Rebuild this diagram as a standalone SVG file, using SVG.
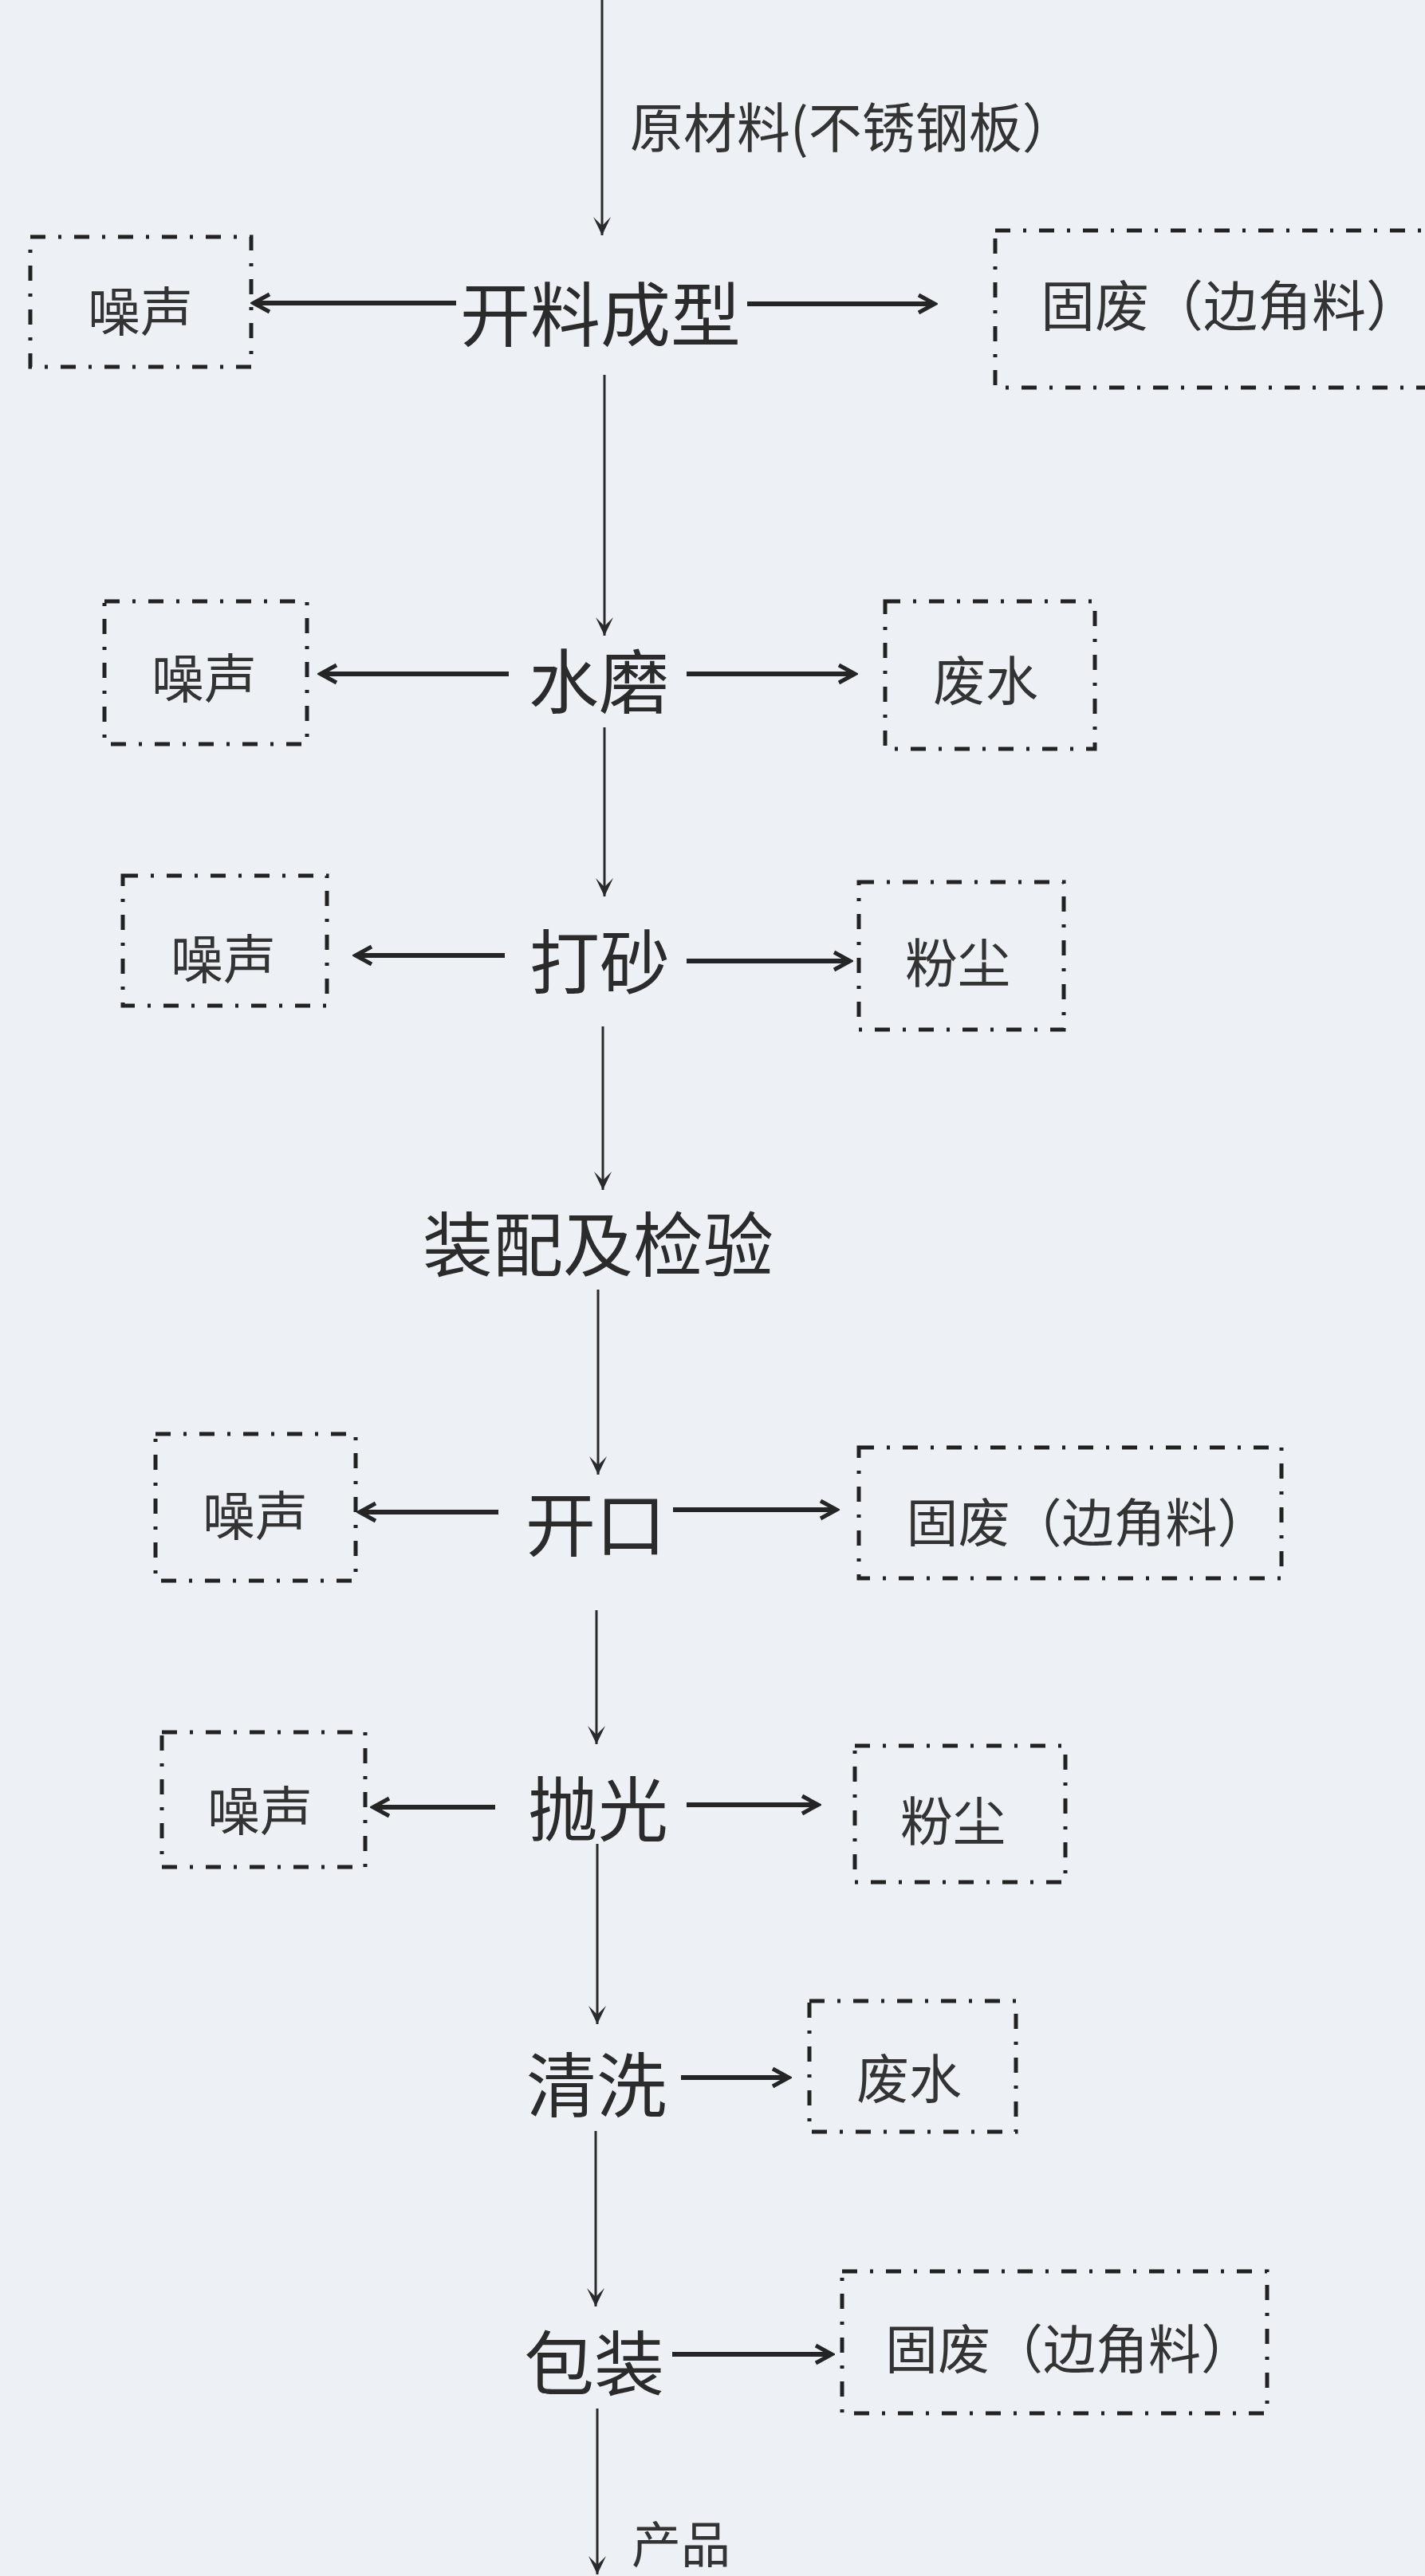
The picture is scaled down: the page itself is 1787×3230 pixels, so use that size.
<svg xmlns="http://www.w3.org/2000/svg" width="1787" height="3230" viewBox="0 0 1787 3230">
<style>
  .bg { fill: #edf0f4; }
  .main { font-family: "Noto Sans CJK SC", "Noto Sans", sans-serif; font-size: 88px; fill: #2b2b2b; text-anchor: middle; dominant-baseline: central; }
  .side { font-family: "Noto Sans CJK SC", "Noto Sans", sans-serif; font-size: 66px; fill: #333; text-anchor: middle; dominant-baseline: central; }
  .lbl { font-family: "Noto Sans CJK SC", "Noto Sans", sans-serif; font-size: 67px; fill: #333; dominant-baseline: central; }
  .box { fill: none; stroke: #222; stroke-width: 5; stroke-dasharray: 19 16 4 16; }
  .v { stroke: #2a2a2a; stroke-width: 3; fill: none; marker-end: url(#vArrow); }
  .h { stroke: #252525; stroke-width: 6; fill: none; marker-end: url(#hArrow); }
</style>
<defs>
  <marker id="vArrow" markerUnits="userSpaceOnUse" viewBox="-26 -14 28 28" refX="0" refY="0" markerWidth="28" markerHeight="28" orient="auto">
    <path d="M -23 -11 L 0 0 L -23 11 L -12 0 Z" fill="#2a2a2a"/>
  </marker>
  <marker id="hArrow" markerUnits="userSpaceOnUse" viewBox="-26 -14 30 28" refX="0" refY="0" markerWidth="30" markerHeight="28" orient="auto">
    <path d="M -20 -11 L 0 0 L -20 11" fill="none" stroke="#252525" stroke-width="5" stroke-linejoin="miter"/>
  </marker>
</defs>
<rect class="bg" x="0" y="0" width="1787" height="3230"/>

<g id="connectors">
  <line class="v" x1="755" y1="0" x2="755" y2="295"/>
  <line class="v" x1="758" y1="470" x2="758" y2="797"/>
  <line class="v" x1="758" y1="912" x2="758" y2="1124"/>
  <line class="v" x1="756" y1="1287" x2="756" y2="1492"/>
  <line class="v" x1="750" y1="1617" x2="750" y2="1849"/>
  <line class="v" x1="748" y1="2019" x2="748" y2="2187"/>
  <line class="v" x1="749" y1="2312" x2="749" y2="2538"/>
  <line class="v" x1="747" y1="2672" x2="747" y2="2892"/>
  <line class="v" x1="749" y1="3020" x2="749" y2="3228"/>

  <line class="h" x1="572" y1="380" x2="318" y2="380"/>
  <line class="h" x1="937" y1="381" x2="1172" y2="381"/>
  <line class="h" x1="638" y1="845" x2="402" y2="845"/>
  <line class="h" x1="861" y1="845" x2="1072" y2="845"/>
  <line class="h" x1="633" y1="1198" x2="446" y2="1198"/>
  <line class="h" x1="861" y1="1205" x2="1066" y2="1205"/>
  <line class="h" x1="625" y1="1896" x2="451" y2="1896"/>
  <line class="h" x1="844" y1="1893" x2="1049" y2="1893"/>
  <line class="h" x1="621" y1="2266" x2="468" y2="2266"/>
  <line class="h" x1="861" y1="2263" x2="1026" y2="2263"/>
  <line class="h" x1="854" y1="2605" x2="989" y2="2605"/>
  <line class="h" x1="843" y1="2952" x2="1043" y2="2952"/>

  <text class="lbl" x="790" y="155">原材料(不锈钢板）</text>
  <text class="lbl" x="792" y="3187" style="font-size:62px">产品</text>
</g>

<g id="n-kailiao"><text class="main" x="753" y="388">开料成型</text></g>
<g id="n-shuimo"><text class="main" x="751" y="848">水磨</text></g>
<g id="n-dasha"><text class="main" x="752" y="1200">打砂</text></g>
<g id="n-zhuangpei"><text class="main" x="750" y="1554">装配及检验</text></g>
<g id="n-kaikou"><text class="main" x="747" y="1905">开口</text></g>
<g id="n-paoguang"><text class="main" x="750" y="2262">抛光</text></g>
<g id="n-qingxi"><text class="main" x="748" y="2608">清洗</text></g>
<g id="n-baozhuang"><text class="main" x="745" y="2957">包装</text></g>

<g id="b-noise1"><rect class="box" x="38" y="297" width="277" height="163"/><text class="side" x="176" y="386">噪声</text></g>
<g id="b-solid1"><rect class="box" x="1248" y="289" width="560" height="197"/><text class="side" x="1543" y="379" style="font-size:68px">固废（边角料）</text></g>
<g id="b-noise2"><rect class="box" x="131" y="754" width="254" height="179"/><text class="side" x="256" y="846">噪声</text></g>
<g id="b-water2"><rect class="box" x="1110" y="754" width="263" height="185"/><text class="side" x="1236" y="849">废水</text></g>
<g id="b-noise3"><rect class="box" x="154" y="1098" width="256" height="163"/><text class="side" x="280" y="1198">噪声</text></g>
<g id="b-dust3"><rect class="box" x="1077" y="1106" width="257" height="185"/><text class="side" x="1201" y="1203">粉尘</text></g>
<g id="b-noise5"><rect class="box" x="195" y="1798" width="251" height="184"/><text class="side" x="320" y="1896">噪声</text></g>
<g id="b-solid5"><rect class="box" x="1077" y="1815" width="530" height="164"/><text class="side" x="1364" y="1905" style="font-size:65px">固废（边角料）</text></g>
<g id="b-noise6"><rect class="box" x="203" y="2172" width="255" height="169"/><text class="side" x="326" y="2266">噪声</text></g>
<g id="b-dust6"><rect class="box" x="1072" y="2189" width="264" height="171"/><text class="side" x="1195" y="2279">粉尘</text></g>
<g id="b-water7"><rect class="box" x="1015" y="2509" width="259" height="164"/><text class="side" x="1140" y="2602">废水</text></g>
<g id="b-solid8"><rect class="box" x="1056" y="2848" width="533" height="178"/><text class="side" x="1341" y="2941" style="font-size:66px">固废（边角料）</text></g>
</svg>
